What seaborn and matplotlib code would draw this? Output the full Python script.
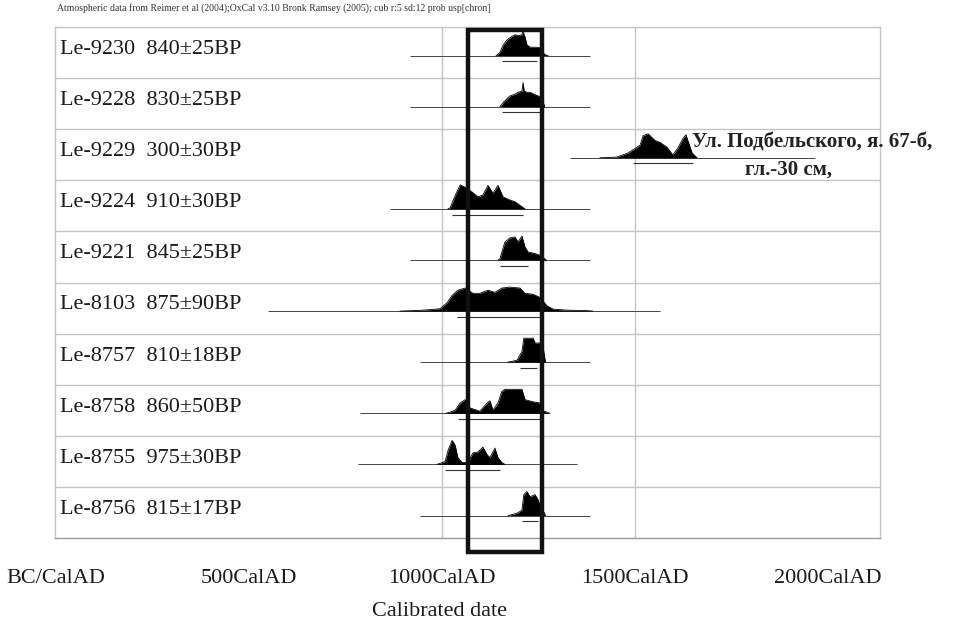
import numpy as np
import pandas as pd
import matplotlib
matplotlib.use("Agg")
import matplotlib.pyplot as plt
from matplotlib.patches import Rectangle
import seaborn as sns

# данные
samples = ["Le-9230", "Le-9228", "Le-9229", "Le-9224", "Le-9221",
           "Le-8103", "Le-8757", "Le-8758", "Le-8755", "Le-8756"]
ages = ["840±25BP", "830±25BP", "300±30BP", "910±30BP", "845±25BP",
        "875±90BP", "810±18BP", "860±50BP", "975±30BP", "815±17BP"]

yr_9230 = [1140, 1150, 1158, 1168, 1179, 1189, 1199, 1207, 1210, 1215, 1220, 1228, 1243, 1254, 1259, 1265, 1275]
pr_9230 = [0, 0.13, 0.43, 0.65, 0.78, 0.87, 0.83, 0.87, 1.0, 0.78, 0.45, 0.35, 0.35, 0.33, 0.3, 0.05, 0]
yr_9228 = [1150, 1160, 1176, 1189, 1197, 1207, 1210, 1213, 1220, 1228, 1241, 1254, 1259, 1266]
pr_9228 = [0, 0.2, 0.45, 0.52, 0.6, 0.65, 1.0, 0.65, 0.6, 0.6, 0.5, 0.42, 0.35, 0]
yr_9229 = [1409, 1453, 1482, 1513, 1521, 1534, 1552, 1565, 1583, 1598, 1611, 1624, 1632, 1648, 1661]
pr_9229 = [0, 0.03, 0.2, 0.52, 0.92, 1.0, 0.72, 0.64, 0.44, 0.12, 0.4, 0.8, 0.96, 0.2, 0]
yr_9224 = [1015, 1021, 1034, 1047, 1060, 1078, 1093, 1106, 1119, 1132, 1145, 1158, 1176, 1189, 1202, 1215]
pr_9224 = [0, 0.05, 0.55, 1.0, 0.9, 0.7, 0.5, 0.58, 0.98, 0.65, 0.98, 0.5, 0.37, 0.3, 0.15, 0]
yr_9221 = [1145, 1150, 1155, 1163, 1176, 1189, 1197, 1207, 1215, 1223, 1236, 1254, 1262, 1270]
pr_9221 = [0, 0.05, 0.33, 0.75, 0.92, 0.96, 0.75, 1.0, 0.54, 0.33, 0.29, 0.2, 0.1, 0]
yr_8103 = [891, 940, 969, 995, 1013, 1026, 1041, 1060, 1080, 1098, 1119, 1137, 1155, 1176, 1202, 1215,
           1236, 1254, 1272, 1288, 1324, 1376, 1391]
pr_8103 = [0, 0.03, 0.06, 0.1, 0.35, 0.65, 0.87, 0.96, 0.74, 0.74, 0.87, 0.78, 0.96, 1.0, 0.96, 0.74,
           0.7, 0.57, 0.22, 0.08, 0.04, 0.02, 0]
yr_8757 = [1170, 1194, 1207, 1212, 1236, 1241, 1254, 1262, 1268]
pr_8757 = [0, 0.08, 0.44, 1.0, 1.0, 0.8, 0.8, 0.6, 0]
yr_8758 = [1010, 1021, 1034, 1047, 1060, 1073, 1098, 1117, 1124, 1132, 1145, 1155, 1163, 1207, 1215,
           1236, 1254, 1262, 1280]
pr_8758 = [0, 0.05, 0.13, 0.43, 0.57, 0.22, 0.09, 0.43, 0.52, 0.13, 0.43, 0.91, 1.0, 1.0, 0.57,
           0.48, 0.43, 0.1, 0]
yr_8755 = [987, 1008, 1016, 1026, 1034, 1041, 1052, 1067, 1080, 1093, 1106, 1117, 1124, 1137, 1145, 1155, 1163]
pr_8755 = [0, 0.12, 0.6, 1.0, 0.8, 0.28, 0.08, 0.08, 0.48, 0.52, 0.72, 0.4, 0.28, 0.68, 0.28, 0.08, 0]
yr_8756 = [1171, 1194, 1207, 1212, 1220, 1228, 1241, 1249, 1254, 1262, 1268]
pr_8756 = [0, 0.09, 0.22, 0.87, 1.0, 0.78, 0.87, 0.65, 0.43, 0.2, 0]

# тонкая линия под распределением и интервал 2 sigma
line_lo = [917, 917, 1332, 865, 917, 549, 943, 788, 782, 943]
line_hi = [1383, 1383, 1966, 1383, 1383, 1565, 1383, 1275, 1350, 1383]
range_lo = [1155, 1155, 1495, 1026, 1150, 1039, 1202, 1041, 1008, 1207]
range_hi = [1246, 1254, 1650, 1210, 1223, 1262, 1246, 1254, 1150, 1249]

box_start, box_end = 1067, 1258
tick_years = [0, 500, 1000, 1500, 2000]
tick_labels = ["BC/CalAD", "500CalAD", "1000CalAD", "1500CalAD", "2000CalAD"]

dists = {
    "Le-9230": (yr_9230, pr_9230), "Le-9228": (yr_9228, pr_9228),
    "Le-9229": (yr_9229, pr_9229), "Le-9224": (yr_9224, pr_9224),
    "Le-9221": (yr_9221, pr_9221), "Le-8103": (yr_8103, pr_8103),
    "Le-8757": (yr_8757, pr_8757), "Le-8758": (yr_8758, pr_8758),
    "Le-8755": (yr_8755, pr_8755), "Le-8756": (yr_8756, pr_8756),
}

sns.set_theme(style="white")
plt.rcParams['font.family'] = ['Liberation Serif', 'DejaVu Serif']

n = len(samples)
base_off = 0.44   # положение базовой линии в строке (снизу)
peak_h = 0.47

rows = []
for i, s in enumerate(samples):
    base = n - 1 - i + base_off
    yrs, pr = dists[s]
    for y, p in zip(yrs, pr):
        rows.append({"sample": s, "year": y, "base": base, "y": base + p * peak_h})
df = pd.DataFrame(rows)

fig = plt.figure(figsize=(9.62, 6.27), dpi=100)
ax = fig.add_axes([55 / 962, 1 - 538 / 627, 825 / 962, 511 / 627])
ax.set_xlim(-3, 2135)
ax.set_ylim(0, n)

grid_c = "#c4c4c4"
for k in range(1, n):
    ax.axhline(k, color=grid_c, lw=1, zorder=0)
for x in [1000, 1500]:
    ax.axvline(x, color=grid_c, lw=1, zorder=0)

for i, s in enumerate(samples):
    base = n - 1 - i + base_off
    d = df[df["sample"] == s]
    ax.fill_between(d["year"], d["base"], d["y"], color="black", lw=0, zorder=3)
    ax.hlines(base, line_lo[i], line_hi[i], color="#444444", lw=0.7, zorder=2)
    ax.hlines(base - 0.11, range_lo[i], range_hi[i], color="#333333", lw=0.8, zorder=2)
    ax.text(0.006, n - 1 - i + 0.56, f"{s}  {ages[i]}", transform=ax.get_yaxis_transform(),
            ha="left", va="center", fontsize=16, color="#1a1a1a")

sns.lineplot(data=df, x="year", y="y", units="sample", estimator=None, sort=False,
             color="black", lw=0.6, ax=ax, zorder=4)

# выделенный интервал
ax.add_patch(Rectangle((box_start, -0.27), box_end - box_start, 10.21, fill=False,
                       ec="#111111", lw=3.2, clip_on=False, zorder=5))

ax.text(1648, 7.73, "Ул. Подбельского, я. 67-б,", fontsize=15, fontweight="bold",
        ha="left", va="center", color="#222222")
ax.text(1785, 7.2, "гл.-30 см,", fontsize=15, fontweight="bold",
        ha="left", va="center", color="#222222")

ax.set_xticks(tick_years, tick_labels)
ax.set_yticks([])
ax.tick_params(axis="x", length=0, pad=22, labelsize=16, colors="#1a1a1a")
ax.set_xlabel("")
ax.set_ylabel("")
for sp in ax.spines.values():
    sp.set_color(grid_c)
    sp.set_linewidth(1)
ax.spines["bottom"].set_color("#9a9a9a")

fig.text(440 / 962, 1 - 612 / 627, "Calibrated date", ha="center", va="center",
         fontsize=16, color="#1a1a1a")
fig.text(57 / 962, 1 - 8 / 627,
         "Atmospheric data from Reimer et al (2004);OxCal v3.10 Bronk Ramsey (2005); cub r:5 sd:12 prob usp[chron]",
         ha="left", va="center", fontsize=7, color="#333333")

fig.savefig("out.png", dpi=100, facecolor="white")
